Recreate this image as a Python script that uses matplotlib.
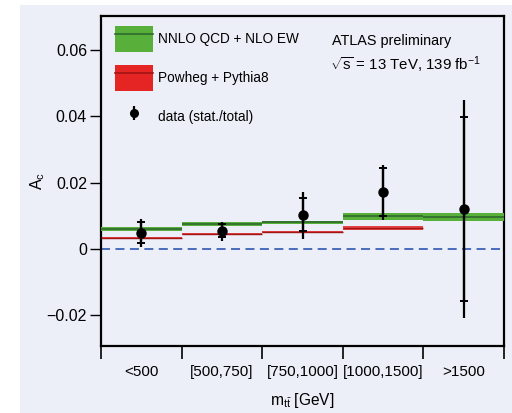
import matplotlib
matplotlib.use("Agg")
import matplotlib.pyplot as plt
from matplotlib.patches import Patch, Rectangle
from matplotlib.lines import Line2D
import numpy as np

# ---- data ----
bins = ["<500", "[500,750]", "[750,1000]", "[1000,1500]", ">1500"]
nnlo_val = [0.0059, 0.0075, 0.0081, 0.0099, 0.0096]
nnlo_err = [0.0006, 0.0006, 0.0005, 0.0011, 0.0012]
powheg_val = [0.0033, 0.0044, 0.0051, 0.0063, 0.0102]
powheg_err = [0.0003, 0.0003, 0.0003, 0.0005, 0.0008]
data_val = [0.0047, 0.0054, 0.0102, 0.0171, 0.0120]
stat_hi = [0.0080, 0.0074, 0.0153, 0.0243, 0.0398]
stat_lo = [0.0017, 0.0037, 0.0053, 0.0099, -0.0156]
tot_hi = [0.0090, 0.0082, 0.0171, 0.0253, 0.0449]
tot_lo = [0.0006, 0.0025, 0.0031, 0.0089, -0.0207]
yticks = [-0.02, 0.0, 0.02, 0.04, 0.06]
ytick_labels = ["\u22120.02", "0", "0.02", "0.04", "0.06"]

plt.rcParams['font.family'] = ['Liberation Sans', 'DejaVu Sans']
plt.rcParams['mathtext.fontset'] = 'custom'
plt.rcParams['mathtext.rm'] = 'Liberation Sans'
plt.rcParams['mathtext.it'] = 'Liberation Sans:italic'

BG = "#eceff8"
GREEN = "#58b03a"
DGREEN = "#2f6a2f"
RED = "#e42524"
DRED = "#a31515"

fig = plt.figure(figsize=(5.12, 4.13), dpi=100)
fig.patch.set_facecolor("white")
fig.patches.append(Rectangle((20/512, 0), 1 - 20/512, 1 - 5/413,
                             transform=fig.transFigure, facecolor=BG,
                             edgecolor="none", zorder=-10))
ax = fig.add_axes([101/512, 1 - 346/413, 403/512, 330/413])
ax.set_facecolor(BG)

n = len(bins)
edges = np.arange(n + 1)
centers = np.arange(n) + 0.5

nv = np.array(nnlo_val); ne = np.array(nnlo_err)
pv = np.array(powheg_val); pe = np.array(powheg_err)

ax.axhline(0, color="#3d62b8", lw=1.3, ls=(0, (5, 3)), zorder=1)

# Powheg band + line
ax.stairs(pv + pe, edges, baseline=pv - pe, fill=True, color=RED, alpha=0.85, lw=0, zorder=2)
ax.hlines(pv, edges[:-1], edges[1:], color=DRED, lw=1.0, zorder=3)
# NNLO band + line
ax.stairs(nv + ne, edges, baseline=nv - ne, fill=True, color=GREEN, lw=0, zorder=4)
ax.hlines(nv, edges[:-1], edges[1:], color=DGREEN, lw=1.2, zorder=5)

dv = np.array(data_val)
ax.errorbar(centers, dv, yerr=[dv - np.array(tot_lo), np.array(tot_hi) - dv],
            fmt="none", ecolor="black", elinewidth=1.6, capsize=0, zorder=6)
ax.errorbar(centers, dv, yerr=[dv - np.array(stat_lo), np.array(stat_hi) - dv],
            fmt="o", color="black", ms=6.5, elinewidth=1.6, capsize=2.6,
            capthick=1.4, zorder=7)

ax.set_xlim(0, n)
ax.set_ylim(-0.0292, 0.0702)
ax.set_xticks(edges)
ax.set_xticklabels([])
ax.set_xticks(centers, minor=True)
ax.set_xticklabels(bins, minor=True, fontsize=11)
ax.tick_params(axis="x", which="major", direction="out", length=9.5, width=1.2)
ax.tick_params(axis="x", which="minor", length=0, pad=14)
ax.set_yticks(yticks)
ax.set_yticklabels(ytick_labels, fontsize=11.5)
ax.tick_params(axis="y", direction="out", length=8, width=1.0, pad=2)
for s in ax.spines.values():
    s.set_linewidth(1.6)

ax.set_xlabel(r"m$_{\mathrm{t\bar{t}}}$ [GeV]", fontsize=11.2, labelpad=8)
ax.set_ylabel(r"A$_{\mathrm{c}}$", fontsize=11.5)
ax.yaxis.set_label_coords(-0.134, 0.5)

h_nnlo = (Patch(facecolor=GREEN, edgecolor="none"), Line2D([], [], color=DGREEN, lw=1.2))
h_pow = (Patch(facecolor=RED, edgecolor="none"), Line2D([], [], color=DRED, lw=1.2))
eb = ax.errorbar([], [], yerr=[], fmt="o", color="black", ms=5.5, elinewidth=1.6)
LFS = 9.8
leg = ax.legend([h_nnlo, h_pow, eb],
                ["NNLO QCD + NLO EW", "Powheg + Pythia8", "data (stat./total)"],
                loc="upper left", bbox_to_anchor=(0.012, 1.0), frameon=False,
                fontsize=LFS, handlelength=2.8, handleheight=2.6,
                labelspacing=0.95, handletextpad=0.35, borderaxespad=0.3)

ax.text(0.573, 0.924, "ATLAS preliminary", transform=ax.transAxes,
        fontsize=10.4, va="center", ha="left")
ax.text(0.568, 0.852, r"$\sqrt{\mathrm{s}}$ = 13 TeV, 139 fb$^{-1}$",
        transform=ax.transAxes, fontsize=10.8, va="center", ha="left")

fig.savefig("out.png", dpi=100, facecolor=fig.get_facecolor())
